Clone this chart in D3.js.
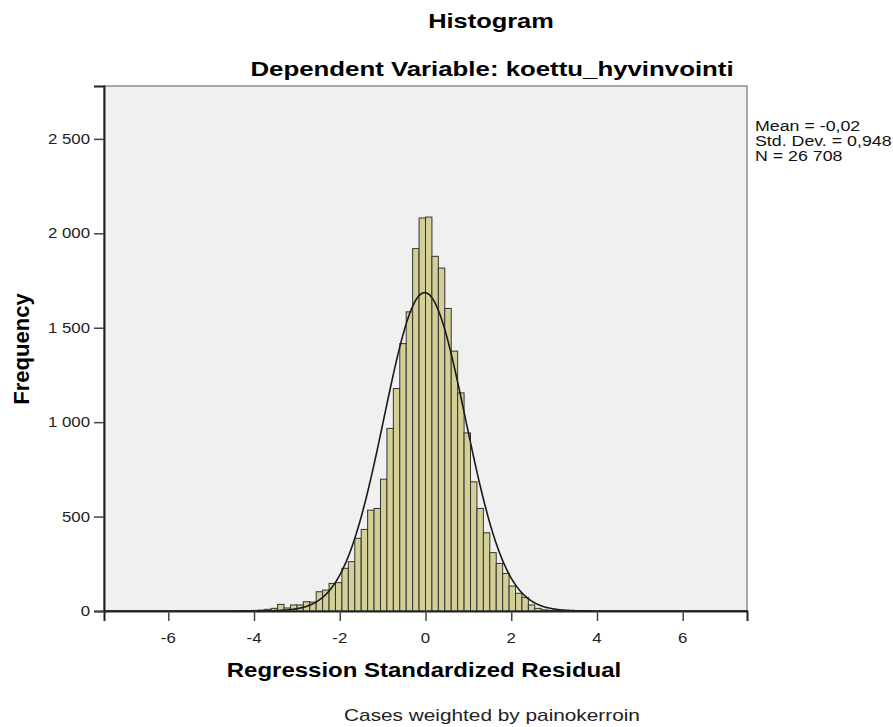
<!DOCTYPE html>
<html>
<head>
<meta charset="utf-8">
<script src="https://cdn.jsdelivr.net/npm/d3@7"></script>
<style>
  html, body { margin: 0; padding: 0; background: #ffffff; }
  svg { display: block; font-family: "Liberation Sans", Arial, sans-serif; }
</style>
</head>
<body>
<svg id="chart" width="893" height="727"></svg>
<script>
// Histogram of regression standardized residuals (bin width 0.15, bins start at k * 0.15)
const binWidth = 0.15;
const firstBinIndex = -30;
const binCounts = [
  1, 1, 2, 3, 5, 9, 14, 35, 16, 32,
  32, 49, 47, 102, 111, 146, 150, 226, 261, 385,
  432, 534, 543, 698, 967, 1178, 1416, 1584, 1919, 2081,
  2086, 1878, 1816, 1602, 1376, 1155, 943, 684, 543, 414,
  309, 252, 199, 132, 94, 72, 32, 14, 6, 3,
  2, 1
];

// Summary statistics shown in the legend and used for the normal curve
const statMean = -0.02;
const statSd = 0.948;
const statN = 26708;
const statLabels = ["Mean = -0,02", "Std. Dev. = 0,948", "N = 26 708"];

const xTicks = [-6, -4, -2, 0, 2, 4, 6];
const yTicks = [0, 500, 1000, 1500, 2000, 2500];
const xDomain = [-7.5, 7.5];
const yDomain = [0, 2780];

const bins = binCounts.map((c, i) => {
  const k = firstBinIndex + i;
  return { x0: k * binWidth, x1: (k + 1) * binWidth, count: c };
});

const svg = d3.select("#chart");
const plot = { left: 104, right: 747, top: 86, bottom: 611 };

const x = d3.scaleLinear().domain(xDomain).range([plot.left, plot.right]);
const y = d3.scaleLinear().domain(yDomain).range([plot.bottom, plot.top]);

const locale = d3.formatLocale({ decimal: ",", thousands: "\u00a0", grouping: [3], currency: ["", ""], minus: "-" });
const yFmt = locale.format(",d");

// Text helper: wide, horizontally stretched glyphs
function label(g, cx, cy, str, size, sx, opts = {}) {
  return g.append("text")
    .attr("transform", `translate(${cx},${cy}) scale(${sx},1)`)
    .attr("text-anchor", opts.anchor || "middle")
    .attr("font-size", size)
    .attr("font-weight", opts.bold ? "bold" : "normal")
    .attr("fill", opts.fill || "#000")
    .text(str);
}

// Titles
label(svg, 491, 28, "Histogram", 21, 1.21, { bold: true });
label(svg, 492, 76, "Dependent Variable: koettu_hyvinvointi", 21, 1.23, { bold: true });

// Plot background
svg.append("rect").attr("x", plot.left).attr("y", plot.top)
  .attr("width", plot.right - plot.left).attr("height", plot.bottom - plot.top)
  .attr("fill", "#f0f0f0").attr("stroke", "#5a5a5a").attr("stroke-width", 1);

// Bars
svg.append("clipPath").attr("id", "plotclip").append("rect")
  .attr("x", plot.left).attr("y", plot.top)
  .attr("width", plot.right - plot.left).attr("height", plot.bottom - plot.top);

svg.append("g").attr("clip-path", "url(#plotclip)")
  .selectAll("rect").data(bins).join("rect")
  .attr("x", d => x(d.x0))
  .attr("y", d => y(d.count))
  .attr("width", d => x(d.x1) - x(d.x0))
  .attr("height", d => y(0) - y(d.count))
  .attr("fill", "#d4cf96")
  .attr("stroke", "#333333")
  .attr("stroke-width", 1);

// Fitted normal curve
const curvePts = d3.range(xDomain[0], xDomain[1] + 0.0001, 0.02).map(v => {
  const z = (v - statMean) / statSd;
  return [v, statN * binWidth * Math.exp(-0.5 * z * z) / (statSd * Math.sqrt(2 * Math.PI))];
});
svg.append("path").attr("clip-path", "url(#plotclip)")
  .datum(curvePts)
  .attr("d", d3.line().x(d => x(d[0])).y(d => y(d[1])))
  .attr("fill", "none").attr("stroke", "#1a1a1a").attr("stroke-width", 1.6);

// Axes (tick labels drawn separately so they can be stretched)
const xAxis = svg.append("g").attr("transform", `translate(0,${plot.bottom})`)
  .call(d3.axisBottom(x).tickValues(xTicks).tickSize(10).tickFormat(""));
xAxis.select(".domain").attr("stroke", "#222").attr("stroke-width", 2);
xAxis.selectAll(".tick line").attr("stroke", "#444").attr("stroke-width", 1.5);
xTicks.forEach(t => label(svg, x(t), plot.bottom + 32, String(t), 14, 1.2, { fill: "#222" }));

const yAxis = svg.append("g").attr("transform", `translate(${plot.left},0)`)
  .call(d3.axisLeft(y).tickValues(yTicks).tickSize(10).tickFormat(""));
yAxis.select(".domain").attr("stroke", "#222").attr("stroke-width", 2);
yAxis.selectAll(".tick line").attr("stroke", "#444").attr("stroke-width", 1.5);
yTicks.forEach(t => label(svg, plot.left - 14, y(t) + 5, yFmt(t), 14, 1.2, { fill: "#222", anchor: "end" }));

// Axis titles
svg.append("text").attr("transform", "translate(29,349) rotate(-90)")
  .attr("text-anchor", "middle").attr("font-size", 22).attr("font-weight", "bold")
  .text("Frequency");
label(svg, 424, 677, "Regression Standardized Residual", 20, 1.2, { bold: true });
label(svg, 492, 721, "Cases weighted by painokerroin", 16, 1.3, { fill: "#222" });

// Legend statistics
statLabels.forEach((s, i) => label(svg, 755, 131 + i * 15, s, 14, 1.27, { fill: "#111", anchor: "start" }));
</script>
</body>
</html>
